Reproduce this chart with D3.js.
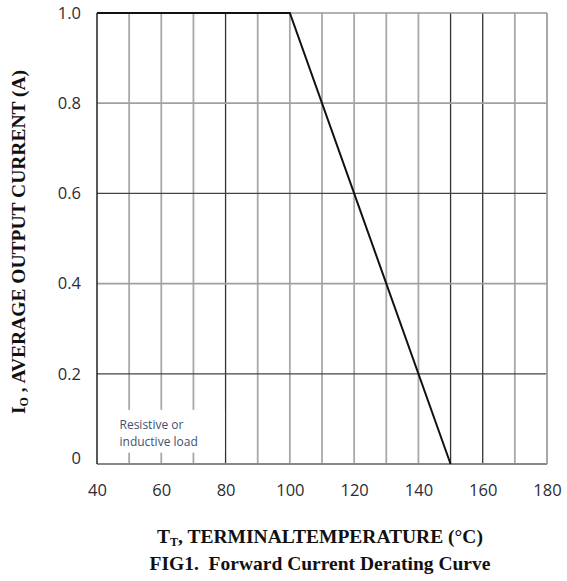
<!DOCTYPE html>
<html>
<head>
<meta charset="utf-8">
<script src="https://cdn.jsdelivr.net/npm/d3@7"></script>
<style>
  body { margin: 0; background: #fff; }
  .tick text { font-family: 'Open Sans', sans-serif; font-size: 16.5px; fill: #2a2c36; }
  .title { font-family: 'Liberation Serif', serif; font-weight: bold; fill: #111; }
</style>
</head>
<body>
<svg id="chart" width="567" height="581"></svg>
<script>
// derating curve: temperature (C) vs output current (A)
const temps = [40, 100, 150]
const current = [1.0, 1.0, 0]

const xTicks = [40, 60, 80, 100, 120, 140, 160, 180]
const yTicks = [0, 0.2, 0.4, 0.6, 0.8, 1.0]
const xGrid = [50, 60, 70, 80, 90, 100, 110, 120, 130, 140, 150, 160, 170]
const yGrid = [0.2, 0.4, 0.6, 0.8]

let margin = {top: 13, right: 20, bottom: 117, left: 97}
let width = 567 - margin.left - margin.right
let height = 581 - margin.top - margin.bottom

let svg = d3.select('#chart')
let chart = svg.append('g')
    .attr('transform', 'translate(' + margin.left + ',' + margin.top + ')')

let x = d3.scaleLinear().domain([40, 180]).range([0, width])
let y = d3.scaleLinear().domain([0, 1]).range([height, 0])

// scanned look: some grid lines print darker than others
let darkX = [80, 150, 160]
let darkY = [0.2, 0.6]

chart.append('g')
    .attr('class', 'grid-x')
  .selectAll('line')
    .data(xGrid)
  .enter().append('line')
    .attr('x1', d => x(d)).attr('x2', d => x(d))
    .attr('y1', 0).attr('y2', height)
    .attr('stroke', d => darkX.includes(d) ? '#333' : '#a8a8a8')
    .attr('stroke-width', d => darkX.includes(d) ? 1.3 : 1.8)

chart.append('g')
    .attr('class', 'grid-y')
  .selectAll('line')
    .data(yGrid)
  .enter().append('line')
    .attr('x1', 0).attr('x2', width)
    .attr('y1', d => y(d)).attr('y2', d => y(d))
    .attr('stroke', d => darkY.includes(d) ? '#444' : '#a0a0a0')
    .attr('stroke-width', d => darkY.includes(d) ? 1.3 : 1.8)

// frame
chart.append('line').attr('x1', 0).attr('x2', width).attr('y1', 0).attr('y2', 0)
    .attr('stroke', '#999').attr('stroke-width', 1.6)
chart.append('line').attr('x1', 0).attr('x2', width).attr('y1', height).attr('y2', height)
    .attr('stroke', '#888').attr('stroke-width', 1.8)
chart.append('line').attr('x1', width).attr('x2', width).attr('y1', 0).attr('y2', height)
    .attr('stroke', '#a0a0a0').attr('stroke-width', 1.8)
chart.append('line').attr('x1', 0).attr('x2', 0).attr('y1', 0).attr('y2', height)
    .attr('stroke', '#222').attr('stroke-width', 1.5)

// note box, covers the grid
chart.append('rect')
    .attr('x', 2).attr('y', y(0.12))
    .attr('width', x(80) - 3).attr('height', y(0.025) - y(0.12))
    .attr('fill', '#fff')
let note = chart.append('text')
    .attr('font-family', "'Open Sans', sans-serif")
    .attr('font-size', 12)
    .attr('fill', '#44506a')
note.append('tspan').attr('x', x(47)).attr('y', y(0.077)).text('Resistive or')
note.append('tspan').attr('x', x(47)).attr('y', y(0.041)).text('inductive load')

// curve
let line = d3.line().x(d => x(d[0])).y(d => y(d[1]))
chart.append('path')
    .datum(temps.map((t, i) => [t, current[i]]))
    .attr('fill', 'none')
    .attr('stroke', '#111')
    .attr('stroke-width', 2)
    .attr('d', line)

let xAxis = d3.axisBottom(x).tickValues(xTicks).tickSize(0).tickPadding(20)
  .tickFormat(d3.format('d'))
let yAxis = d3.axisLeft(y).tickValues(yTicks).tickSize(0).tickPadding(16)
  .tickFormat(d => d === 0 ? '0' : d3.format('.1f')(d))

chart.append('g')
    .attr('class', 'x axis')
    .attr('transform', 'translate(0,' + height + ')')
    .call(xAxis)
  .call(g => g.select('.domain').remove())

chart.append('g')
    .attr('class', 'y axis')
    .call(yAxis)
  .call(g => g.select('.domain').remove())
  .call(g => g.selectAll('.tick').filter(d => d === 0).select('text').attr('dy', '-0.05em'))

// axis titles
let xt = svg.append('text')
    .attr('class', 'title')
    .attr('text-anchor', 'middle')
    .attr('x', 320).attr('y', 543)
    .attr('font-size', 19.5)
xt.append('tspan').text('T')
xt.append('tspan').attr('font-size', 12).attr('dy', 3).text('T')
xt.append('tspan').attr('dy', -3).text(', TERMINALTEMPERATURE (°C)')

svg.append('text')
    .attr('class', 'title')
    .attr('text-anchor', 'middle')
    .attr('x', 320).attr('y', 570)
    .attr('font-size', 19.5)
    .attr('xml:space', 'preserve')
    .text('FIG1.  Forward Current Derating Curve')

let yt = svg.append('text')
    .attr('class', 'title')
    .attr('text-anchor', 'middle')
    .attr('transform', 'translate(25,242) rotate(-90)')
    .attr('font-size', 19.5)
yt.append('tspan').text('I')
yt.append('tspan').attr('font-size', 12).attr('dy', 3).text('O')
yt.append('tspan').attr('dy', -3).text(' , AVERAGE OUTPUT CURRENT (A)')
</script>
</body>
</html>
